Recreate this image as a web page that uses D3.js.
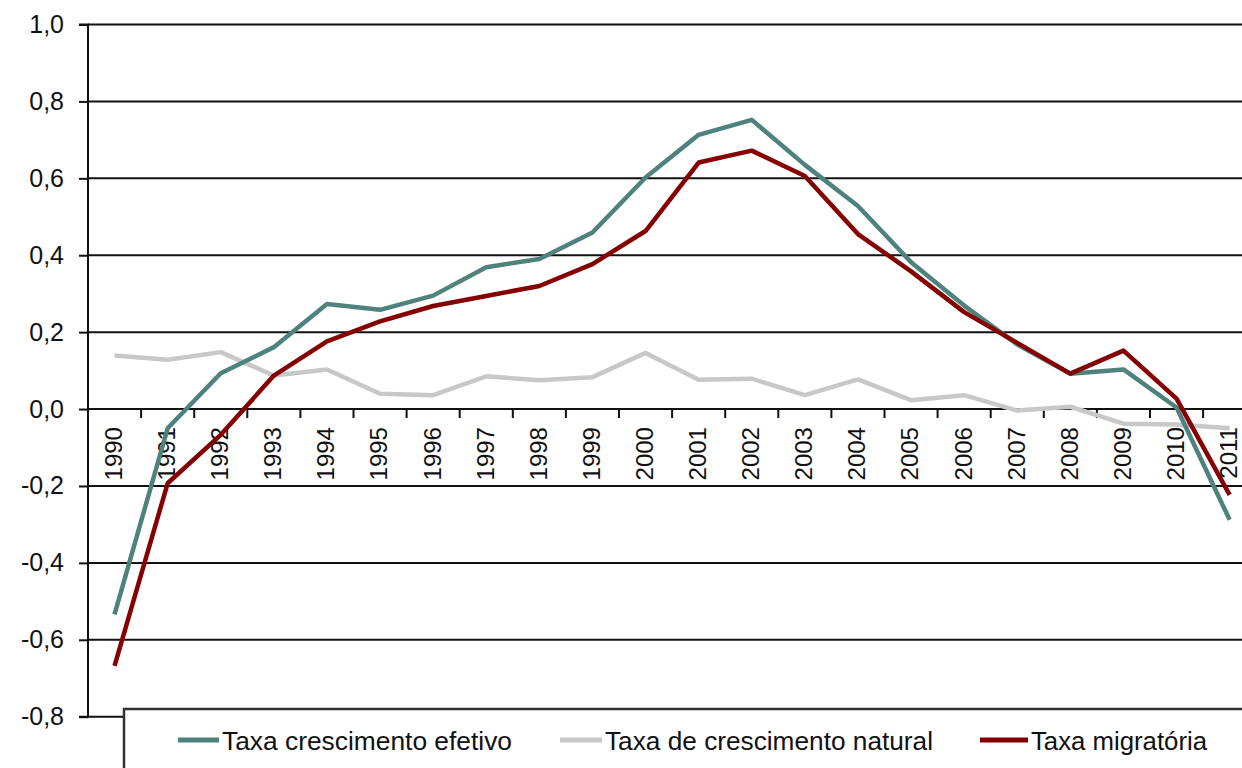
<!DOCTYPE html>
<html>
<head>
<meta charset="utf-8">
<script src="https://cdn.jsdelivr.net/npm/d3@7"></script>
<style>
  html, body { margin: 0; padding: 0; background: #fff; }
  svg { display: block; font-family: "Liberation Sans", Arial, sans-serif; }
</style>
</head>
<body>
<svg id="chart" width="1242" height="768"></svg>
<script>
const years = ["1990","1991","1992","1993","1994","1995","1996","1997","1998","1999","2000",
               "2001","2002","2003","2004","2005","2006","2007","2008","2009","2010","2011"];
const efetivo = [-0.534, -0.05, 0.093, 0.161, 0.273, 0.258, 0.295, 0.369, 0.39, 0.459, 0.602,
                 0.713, 0.752, 0.635, 0.528, 0.382, 0.269, 0.168, 0.092, 0.103, 0.004, -0.288];
const natural = [0.139, 0.128, 0.148, 0.087, 0.103, 0.04, 0.036, 0.085, 0.075, 0.083, 0.146,
                 0.076, 0.079, 0.036, 0.077, 0.023, 0.036, -0.004, 0.006, -0.038, -0.04, -0.05];
const migratoria = [-0.668, -0.193, -0.067, 0.087, 0.176, 0.228, 0.268, 0.294, 0.32, 0.377, 0.463,
                    0.641, 0.672, 0.606, 0.455, 0.358, 0.252, 0.172, 0.092, 0.152, 0.027, -0.223];
const seriesNames = ["Taxa crescimento efetivo", "Taxa de crescimento natural", "Taxa migratória"];
const seriesColors = ["#4f827d", "#c8c8c8", "#850000"];
const yTicks = [-0.8, -0.6, -0.4, -0.2, 0.0, 0.2, 0.4, 0.6, 0.8, 1.0];

const svg = d3.select("#chart");
const W = 1242;
const axisX = 88;
const x = d3.scaleBand().domain(years).range([axisX, axisX + 53.1 * years.length]).paddingInner(0).paddingOuter(0);
const y = d3.scaleLinear().domain([-0.8, 1.0]).range([716.7, 24.5]);
const cx = d => x(d) + x.bandwidth() / 2;
const fmt = v => d3.format(".1f")(v).replace(".", ",").replace("−", "-");

// gridlines
svg.append("g").selectAll("line").data(yTicks).join("line")
  .attr("x1", axisX).attr("x2", W)
  .attr("y1", d => y(d)).attr("y2", d => y(d))
  .attr("stroke", "#111").attr("stroke-width", 2);

// y axis
const yAxis = svg.append("g").attr("transform", `translate(${axisX},0)`)
  .call(d3.axisLeft(y).tickValues(yTicks).tickFormat(fmt).tickSize(9).tickPadding(15));
yAxis.select(".domain").attr("stroke", "#111").attr("stroke-width", 2)
  .attr("d", `M-9,${y(1.0)}H0V${y(-0.8)}H-9`);
yAxis.selectAll(".tick line").attr("stroke", "#111").attr("stroke-width", 2);
yAxis.selectAll(".tick text").attr("font-size", 25).attr("fill", "#111")
  .attr("font-family", "Liberation Sans, Arial, sans-serif");

// x axis ticks at category boundaries on zero line
const bounds = years.map(d => x(d)).slice(1);
svg.append("g").selectAll("line").data(bounds).join("line")
  .attr("x1", d => d).attr("x2", d => d)
  .attr("y1", y(0)).attr("y2", y(0) + 9)
  .attr("stroke", "#111").attr("stroke-width", 2);

// year labels
svg.append("g").selectAll("text").data(years).join("text")
  .attr("transform", d => `translate(${cx(d) - 1},${y(0) + 18}) rotate(-90)`)
  .attr("text-anchor", "end").attr("dy", "0.35em")
  .attr("font-size", 24).attr("fill", "#111")
  .text(d => d);

// lines
const allSeries = [efetivo, natural, migratoria];
const line = d3.line().x((d, i) => cx(years[i])).y(d => y(d));
const drawOrder = [1, 0, 2];
drawOrder.forEach(k => {
  svg.append("path").datum(allSeries[k])
    .attr("d", line).attr("fill", "none")
    .attr("stroke", seriesColors[k]).attr("stroke-width", 4.5)
    .attr("stroke-linejoin", "round");
});

// legend
const lg = svg.append("g");
lg.append("rect").attr("x", 124).attr("y", 709).attr("width", 1200).attr("height", 100)
  .attr("fill", "#fff").attr("stroke", "#333").attr("stroke-width", 2.5);
const legendPos = [{sx: 178, tx: 222, w: 290}, {sx: 560, tx: 605, w: 328}, {sx: 980, tx: 1031, w: 176}];
seriesNames.forEach((name, i) => {
  const p = legendPos[i];
  lg.append("line").attr("x1", p.sx).attr("x2", p.tx - 3).attr("y1", 740).attr("y2", 740)
    .attr("stroke", seriesColors[i]).attr("stroke-width", 5);
  lg.append("text").attr("x", p.tx).attr("y", 750).attr("font-size", 25).attr("fill", "#111")
    .attr("textLength", p.w).attr("lengthAdjust", "spacingAndGlyphs")
    .text(name);
});
</script>
</body>
</html>
